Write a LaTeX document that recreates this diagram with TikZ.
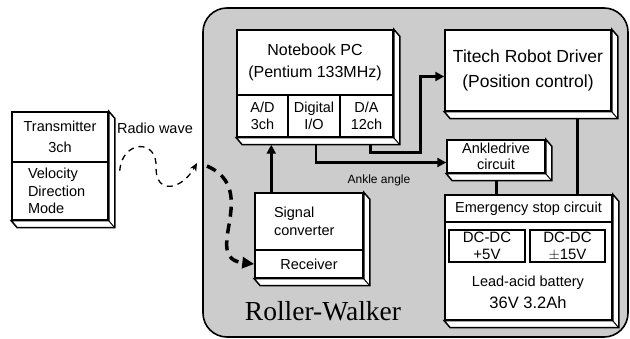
\documentclass[tikz,border=0pt]{standalone}
\usepackage{fontspec}
\setmainfont{Liberation Sans}
\newfontfamily\rwserif{Liberation Serif}
\usetikzlibrary{arrows.meta,positioning,calc}
\tikzset{
  unit/.style={rectangle, draw=black, line width=1.5pt, fill=white,
               inner sep=0pt, align=center,
               font=\fontsize{14.5}{17.5}\selectfont},
  link/.style={line width=3pt},
  arrow/.style={-{Triangle[length=9pt,width=9pt]}, line width=2.6pt},
  wave/.style={-{Stealth[length=8pt,width=7pt]}, line width=1.3pt,
               dash pattern=on 6pt off 5pt},
  beam/.style={-{Triangle[length=12pt,width=11pt]}, line width=3.5pt,
               dash pattern=on 10pt off 7pt},
}
% side and bottom faces of a box: #1 = front NE corner, #2 = front SW corner
\newcommand{\slab}[2]{%
  \filldraw[fill=white, line width=1.5pt] (#1) -- ++(6,7) |- ($(#2)+(6,7)$)
    -- (#2) -- (#2 -| #1) -- cycle;
  \draw[line width=1pt] (#2 -| #1) -- ++(6,7);}

\begin{document}
\begin{tikzpicture}[x=1pt, y=-1pt]
    \useasboundingbox (0,0) rectangle (630,339);

    % Roller-Walker body
    \filldraw[fill=gray!40, line width=1.6pt, rounded corners=24pt]
      (203,8) rectangle (628,337);
    \node[font=\rwserif\fontsize{27.5}{30}\selectfont] (rw_name) at (323,311) {Roller-Walker};

    % Transmitter (outside)
    \node[unit, minimum width=96pt, minimum height=50pt] (tx_top) at (60,137) {Transmitter\\[4pt]3ch};
    \node[unit, minimum width=96pt, minimum height=58pt, text width=64pt, align=left] (tx_bot) at (60,191) {Velocity\\Direction\\Mode};
    \slab{tx_top.north east}{tx_bot.south west}
    \node[font=\fontsize{14.5}{17}\selectfont] (radio) at (155,128) {Radio wave};

    % Notebook PC with its I/O boards
    \node[unit, minimum width=156pt, minimum height=65pt, font=\fontsize{16}{19}\selectfont] (pc_top) at (315,62.5) {Notebook PC\\[3pt](Pentium 133MHz)};
    \node[unit, minimum width=51pt, minimum height=42pt] (pc_ad) at (262.5,116) {A/D\\3ch};
    \node[unit, minimum width=52pt, minimum height=42pt] (pc_dio) at (314,116) {Digital\\I/O};
    \node[unit, minimum width=53pt, minimum height=42pt] (pc_da) at (366.5,116) {D/A\\12ch};
    \slab{pc_top.north east}{pc_ad.south west}

    % Driver side
    \node[unit, minimum width=166pt, minimum height=81pt, font=\fontsize{17.5}{20}\selectfont] (driver) at (528,70.5) {Titech Robot Driver\\[5pt](Position control)};
    \slab{driver.north east}{driver.south west}
    \node[unit, minimum width=98pt, minimum height=33pt, font=\fontsize{14.5}{16}\selectfont] (ankle) at (496,156.5) {Ankledrive\\circuit};
    \slab{ankle.north east}{ankle.south west}

    % Emergency stop and power
    \node[unit, minimum width=167pt, minimum height=27pt] (estop_top) at (528.5,208.5) {Emergency stop circuit};
    \node[unit, minimum width=167pt, minimum height=98pt] (estop_body) at (528.5,271) {};
    \slab{estop_top.north east}{estop_body.south west}
    \node[unit, minimum width=76pt, minimum height=32pt, font=\fontsize{15}{17}\selectfont] (dc_5) at (487,246) {DC-DC\\+5V};
    \node[unit, minimum width=75pt, minimum height=32pt, font=\fontsize{15}{17}\selectfont] (dc_15) at (567.5,246) {DC-DC\\$\pm$15V};
    \node[align=center, font=\fontsize{14.5}{17}\selectfont] (battery) at (528,292.5) {Lead-acid battery\\[5pt]{\fontsize{16.5}{20}\selectfont 36V 3.2Ah}};

    % Receiver unit
    \node[unit, minimum width=108pt, minimum height=57pt, text width=70pt, align=left] (sig) at (309,221.5) {Signal\\converter};
    \node[unit, minimum width=108pt, minimum height=28pt] (recv) at (309,264) {Receiver};
    \slab{sig.north east}{recv.south west}

    % Radio link
    \coordinate (wave_in) at (197,163);
    \draw[wave] (tx_top.south east) ++(11,8) .. controls (122,140) and (158,138) .. (156,168)
      .. controls (156,195) and (182,190) .. (wave_in);
    \coordinate (beam_in) at (207,166);
    \draw[beam] (beam_in) .. controls (262,190) and (200,258) .. (recv.west);

    % Signals
    \draw[arrow, shorten >=7pt] (sig.north west) ++(17,0) coordinate (ad_in) -- (ad_in |- pc_ad.south);
    \draw[arrow] (pc_dio.south) ++(2,7) |- ([yshift=-6pt]ankle.west);
    \draw[arrow] (pc_da.south) ++(4,7) -- ++(0,8) -- ++(50,0) |- ([yshift=-6pt]driver.west);
    \node[font=\fontsize{12}{14}\selectfont] (angle_lbl) at (379,180) {Ankle angle};

    % Power lines
    \draw[link] ($(driver.south)+(49,7)$) coordinate (drv_pwr) -- (drv_pwr |- estop_top.north);
    \draw[link] ($(ankle.south)+(0,7)$) coordinate (ank_pwr) -- (ank_pwr |- estop_top.north);
\end{tikzpicture}
\end{document}
